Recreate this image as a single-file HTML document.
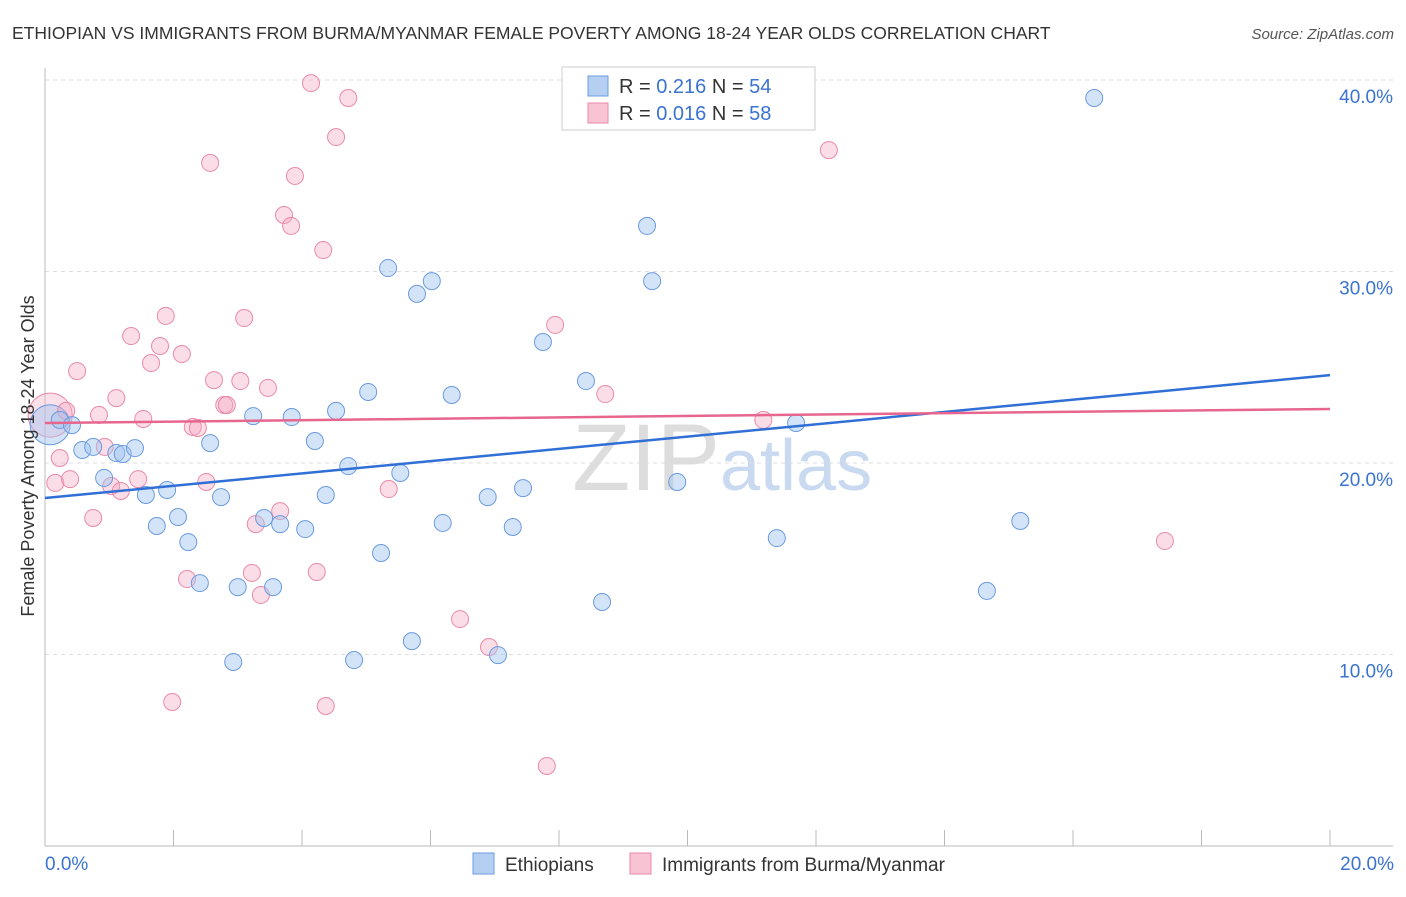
<!DOCTYPE html>
<html><head><meta charset="utf-8"><style>
body{margin:0;background:#fff;font-family:"Liberation Sans",sans-serif}
svg text{font-family:"Liberation Sans",sans-serif}
</style></head><body>
<svg id="c" width="1406" height="892" xmlns="http://www.w3.org/2000/svg">
<text x="12" y="39" font-size="17.5" fill="#333">ETHIOPIAN VS IMMIGRANTS FROM BURMA/MYANMAR FEMALE POVERTY AMONG 18-24 YEAR OLDS CORRELATION CHART</text>
<text x="1394" y="39" font-size="15" fill="#555" font-style="italic" text-anchor="end">Source: ZipAtlas.com</text>
<text x="720" y="490" font-size="95" fill="#ddd" text-anchor="end" font-family="Liberation Serif">ZIP</text>
<text x="720" y="490" font-size="72" fill="#c9d9f0">atlas</text>
<g id="grid"></g><g id="axes"></g><g id="pts"></g><g id="trend"></g>
<text x="34" y="456" font-size="18" fill="#333" text-anchor="middle" transform="rotate(-90 34 456)">Female Poverty Among 18-24 Year Olds</text>
<g>
<rect x="562" y="67" width="253" height="63" fill="#fff" stroke="#ccc"/>
<rect x="588" y="76" width="20" height="20" fill="#b5cff2" stroke="#6a9be0"/>
<rect x="588" y="103" width="20" height="20" fill="#f8c3d3" stroke="#ea8aa8"/>
<text x="619" y="93" font-size="20" fill="#333">R = <tspan fill="#3a73d0">0.216</tspan>   N = <tspan fill="#3a73d0">54</tspan></text>
<text x="619" y="120" font-size="20" fill="#333">R = <tspan fill="#3a73d0">0.016</tspan>   N = <tspan fill="#3a73d0">58</tspan></text>
</g>
<g>
<rect x="473" y="853" width="21" height="21" fill="#b5cff2" stroke="#6a9be0"/>
<text x="505" y="871" font-size="19" fill="#333">Ethiopians</text>
<rect x="630" y="853" width="21" height="21" fill="#f8c3d3" stroke="#ea8aa8"/>
<text x="662" y="871" font-size="19" fill="#333">Immigrants from Burma/Myanmar</text>
</g>
</svg>
<script>
const blueX=[0.23,0.42,0.58,0.75,0.92,1.11,1.21,1.40,1.57,1.74,1.90,2.07,2.23,2.41,2.57,2.74,2.93,3.00,3.24,3.41,3.55,3.66,3.84,4.05,4.20,4.37,4.53,4.72,4.81,5.03,5.23,5.34,5.53,5.71,5.79,6.02,6.19,6.33,6.89,7.05,7.28,7.44,7.75,8.42,8.67,9.37,9.45,9.84,11.39,11.69,14.66,15.18,16.33];
const blueY=[22.25,21.98,20.68,20.84,19.22,20.52,20.47,20.78,18.33,16.71,18.59,17.18,15.87,13.73,21.04,18.22,9.61,13.52,22.45,17.13,13.52,16.81,22.40,16.55,21.15,18.33,22.72,19.84,9.71,23.71,15.30,30.18,19.48,10.70,28.83,29.50,16.87,23.55,18.22,9.97,16.66,18.69,26.32,24.28,12.74,32.38,29.50,19.01,16.08,22.09,13.32,16.97,39.06];
const pinkX=[0.16,0.23,0.33,0.39,0.50,0.75,0.84,0.93,1.03,1.11,1.18,1.34,1.45,1.53,1.65,1.79,1.88,1.98,2.13,2.21,2.30,2.38,2.51,2.57,2.63,2.79,2.83,3.04,3.10,3.22,3.28,3.36,3.47,3.66,3.72,3.83,3.89,4.14,4.23,4.33,4.37,4.53,4.72,5.35,6.46,6.91,7.81,7.94,8.72,11.18,12.20,17.43];
const pinkY=[18.96,20.26,22.72,19.16,24.80,17.13,22.51,20.84,18.80,23.39,18.54,26.63,19.16,22.30,25.22,26.11,27.68,7.52,25.69,13.94,21.88,21.83,19.01,35.67,24.33,23.03,23.03,24.28,27.57,14.26,16.81,13.11,23.92,17.49,32.95,32.38,34.99,39.84,14.31,31.12,7.31,37.02,39.06,18.64,11.85,10.39,4.18,27.21,23.60,22.25,36.34,15.93];
const blueTrend=[18.17,24.59];
const pinkTrend=[22.09,22.82];
const yTicks=[10,20,30,40];
const yTickLabels=["10.0%","20.0%","30.0%","40.0%"];
const xTickLabels=["0.0%","20.0%"];
const NS="http://www.w3.org/2000/svg";
const sx=v=>45+v*64.25, sy=v=>846-v*19.15;
function mk(t,a,p){const e=document.createElementNS(NS,t);for(const k in a)e.setAttribute(k,a[k]);document.getElementById(p).appendChild(e);return e;}
yTicks.forEach((t,i)=>{
 const l=mk('line',{x1:45,x2:1393,y1:sy(t),y2:sy(t),stroke:'#ddd','stroke-dasharray':'4 4'},'grid');
 
 
 const tx=mk('text',{x:1393,y:sy(t)+23,'font-size':19,fill:'#3a73d0','text-anchor':'end'},'grid');
 tx.textContent=yTickLabels[i];
 
 
});
const ax=mk('line',{x1:45,x2:1393,y1:846,y2:846,stroke:'#bbb'},'axes');


const ay=mk('line',{x1:45,x2:45,y1:68,y2:846,stroke:'#bbb'},'axes');


for(let i=0;i<=20;i+=2){
 const t=mk('line',{x1:sx(i),x2:sx(i),y1:830,y2:846,stroke:'#bbb'},'axes');
 
 
}
const x0=mk('text',{x:45,y:870,'font-size':19,fill:'#3a73d0'},'axes');x0.textContent=xTickLabels[0];


const x1=mk('text',{x:1394,y:870,'font-size':19,fill:'#3a73d0','text-anchor':'end'},'axes');x1.textContent=xTickLabels[1];


let b=mk('circle',{cx:sx(0.08),cy:sy(22.5),r:22,fill:'rgba(245,170,195,0.35)',stroke:'#ea8aa8'},'pts');


b=mk('circle',{cx:sx(0.08),cy:sy(22.0),r:20,fill:'rgba(160,195,240,0.45)',stroke:'#6a9be0'},'pts');


pinkX.forEach((x,i)=>{
 const c=mk('circle',{cx:sx(x),cy:sy(pinkY[i]),r:8.5,fill:'rgba(245,170,195,0.4)',stroke:'#ea8aa8','stroke-width':1},'pts');
 
 
});
blueX.forEach((x,i)=>{
 const c=mk('circle',{cx:sx(x),cy:sy(blueY[i]),r:8.5,fill:'rgba(160,195,240,0.45)',stroke:'#6a9be0','stroke-width':1},'pts');
 
 
});
const tb=mk('line',{x1:sx(0),x2:sx(20),y1:sy(blueTrend[0]),y2:sy(blueTrend[1]),stroke:'#2f6fd6','stroke-width':2.5},'trend');


const tp=mk('line',{x1:sx(0),x2:sx(20),y1:sy(pinkTrend[0]),y2:sy(pinkTrend[1]),stroke:'#e6668e','stroke-width':2.5},'trend');


</script>
</body></html>
